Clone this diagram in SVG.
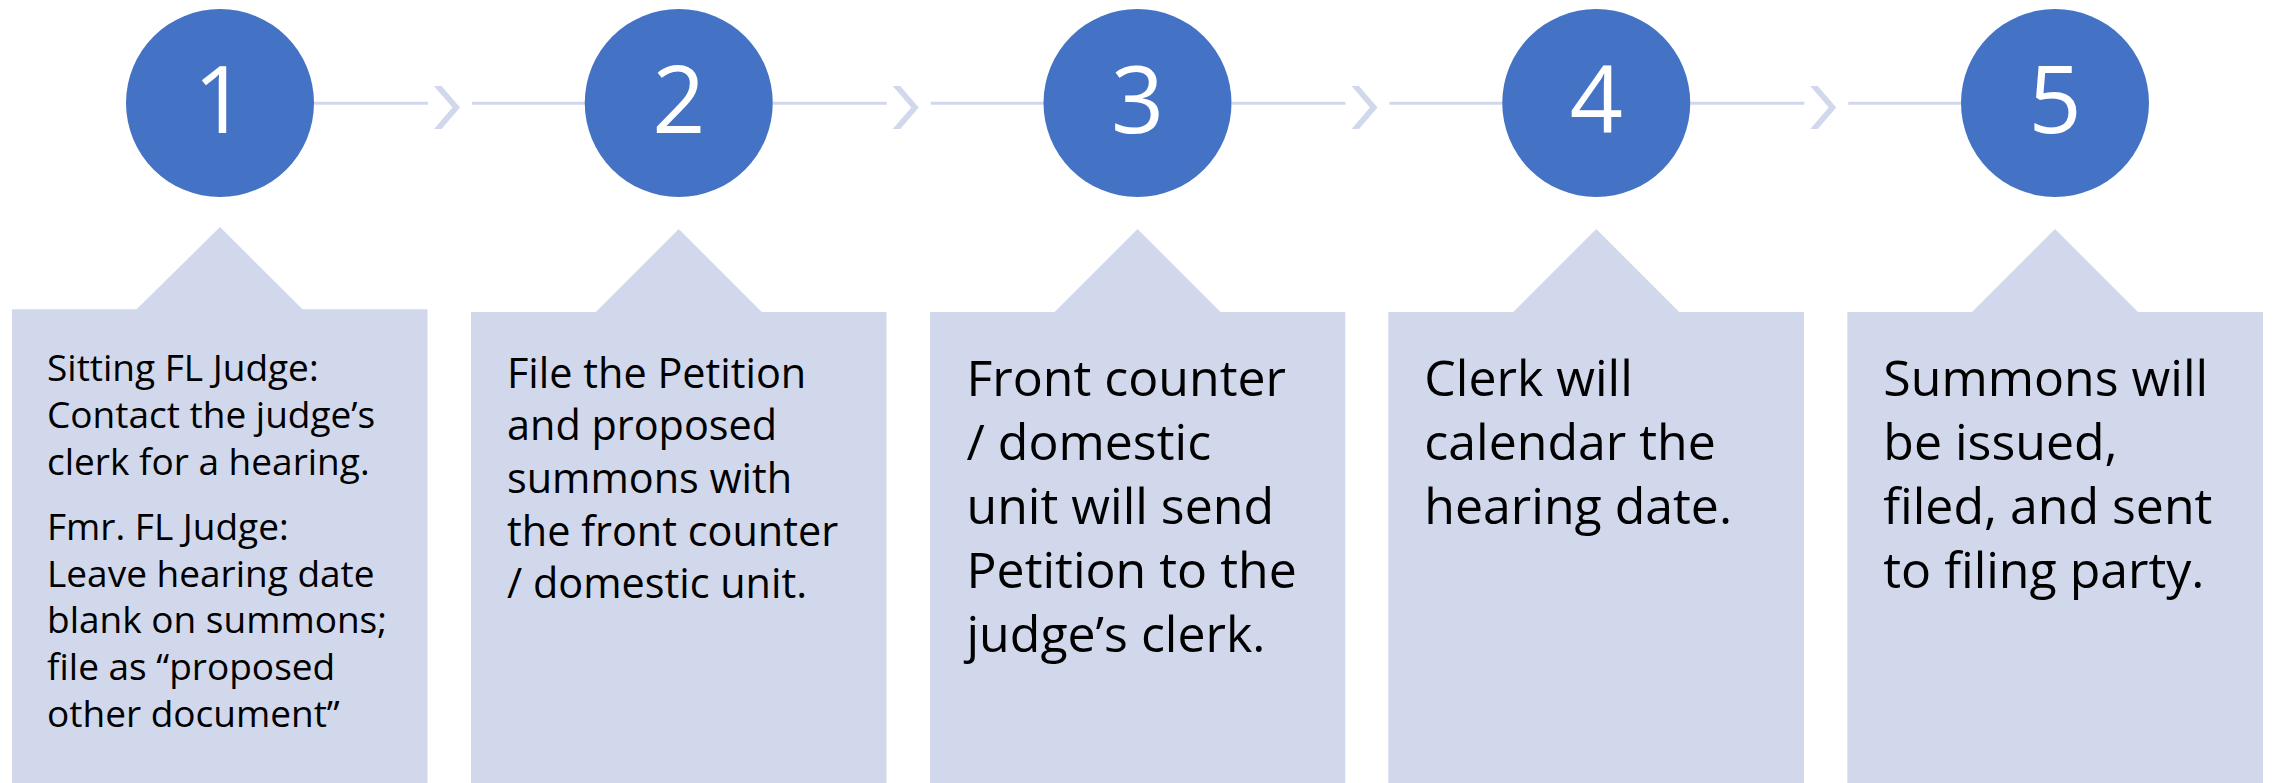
<svg xmlns="http://www.w3.org/2000/svg" width="2274" height="783" viewBox="0 0 2274 783">
<style>
.box{fill:#D1D8EB}
.circ{fill:#4472C4}
.num{font-family:"Open Sans","Noto Sans",sans-serif;font-size:93px;fill:#FFFFFF;text-anchor:middle}
.ln{stroke:#D1D8EB;stroke-width:3;fill:none}
.chev{fill:#D1D8EB}
.t1{font-family:"Open Sans","Noto Sans",sans-serif;font-size:37px;fill:#000000}
.t2{font-family:"Open Sans","Noto Sans",sans-serif;font-size:41.4px;fill:#000000}
.t3{font-family:"Open Sans","Noto Sans",sans-serif;font-size:50px;fill:#000000}
</style>
<rect width="2274" height="783" fill="#FFFFFF"/>
<g id="connectors">
<line class="ln" x1="314" y1="103.3" x2="428" y2="103.3"/>
<polygon class="chev" points="434,86 441.5,86 460,107.5 441.5,129 434,129 452.5,107.5"/>
<line class="ln" x1="472" y1="103.3" x2="585" y2="103.3"/>
<line class="ln" x1="772.75" y1="103.3" x2="886.75" y2="103.3"/>
<polygon class="chev" points="892.75,86 900.25,86 918.75,107.5 900.25,129 892.75,129 911.25,107.5"/>
<line class="ln" x1="930.75" y1="103.3" x2="1044" y2="103.3"/>
<line class="ln" x1="1231.5" y1="103.3" x2="1345.5" y2="103.3"/>
<polygon class="chev" points="1351.5,86 1359,86 1377.5,107.5 1359,129 1351.5,129 1370,107.5"/>
<line class="ln" x1="1389.5" y1="103.3" x2="1502.5" y2="103.3"/>
<line class="ln" x1="1690.25" y1="103.3" x2="1804.25" y2="103.3"/>
<polygon class="chev" points="1810.25,86 1817.75,86 1836.25,107.5 1817.75,129 1810.25,129 1828.75,107.5"/>
<line class="ln" x1="1848.25" y1="103.3" x2="1961.5" y2="103.3"/>
</g>
<g id="step1">
<circle class="circ" cx="220" cy="103" r="94"/>
<text class="num" x="220" y="132.5">1</text>
<path class="box" d="M12,783 V309.3 H136.6 L220,227 L302.5,309.3 H427.5 V783 Z"/>
<text class="t1"><tspan x="47" y="381">Sitting FL Judge:</tspan><tspan x="47" y="428">Contact the judge’s</tspan><tspan x="47" y="474.5">clerk for a hearing.</tspan><tspan x="47" y="539.5">Fmr. FL Judge:</tspan><tspan x="47" y="586.5">Leave hearing date</tspan><tspan x="47" y="633.3">blank on summons;</tspan><tspan x="47" y="680">file as “proposed</tspan><tspan x="47" y="726.7">other document”</tspan></text>
</g>
<g id="step2">
<circle class="circ" cx="678.75" cy="103" r="94"/>
<text class="num" x="678.75" y="132.5">2</text>
<path class="box" d="M471,783 V312 H595.75 L678.75,229 L761.75,312 H886.5 V783 Z"/>
<text class="t2"><tspan x="507" y="388.3">File the Petition</tspan><tspan x="507" y="439.5">and proposed</tspan><tspan x="507" y="492.7">summons with</tspan><tspan x="507" y="546">the front counter</tspan><tspan x="507" y="598.3">/ domestic unit.</tspan></text>
</g>
<g id="step3">
<circle class="circ" cx="1137.5" cy="103" r="94"/>
<text class="num" x="1137.5" y="132.5">3</text>
<path class="box" d="M930,783 V312 H1054.5 L1137.5,229 L1220.5,312 H1345.3 V783 Z"/>
<text class="t3"><tspan x="966.5" y="396">Front counter</tspan><tspan x="966.5" y="459.5">/ domestic</tspan><tspan x="966.5" y="524">unit will send</tspan><tspan x="966.5" y="587.5">Petition to the</tspan><tspan x="966.5" y="651.7">judge’s clerk.</tspan></text>
</g>
<g id="step4">
<circle class="circ" cx="1596.25" cy="103" r="94"/>
<text class="num" x="1596.25" y="132.5">4</text>
<path class="box" d="M1388.3,783 V312 H1513.25 L1596.25,229 L1679.25,312 H1804 V783 Z"/>
<text class="t3"><tspan x="1424.3" y="396">Clerk will</tspan><tspan x="1424.3" y="460">calendar the</tspan><tspan x="1424.3" y="524">hearing date.</tspan></text>
</g>
<g id="step5">
<circle class="circ" cx="2055" cy="103" r="94"/>
<text class="num" x="2055" y="132.5">5</text>
<path class="box" d="M1847.3,783 V312 H1972 L2055,229 L2138,312 H2263 V783 Z"/>
<text class="t3"><tspan x="1883.3" y="396">Summons will</tspan><tspan x="1883.3" y="460">be issued,</tspan><tspan x="1883.3" y="524">filed, and sent</tspan><tspan x="1883.3" y="587.5">to filing party.</tspan></text>
</g>
</svg>
